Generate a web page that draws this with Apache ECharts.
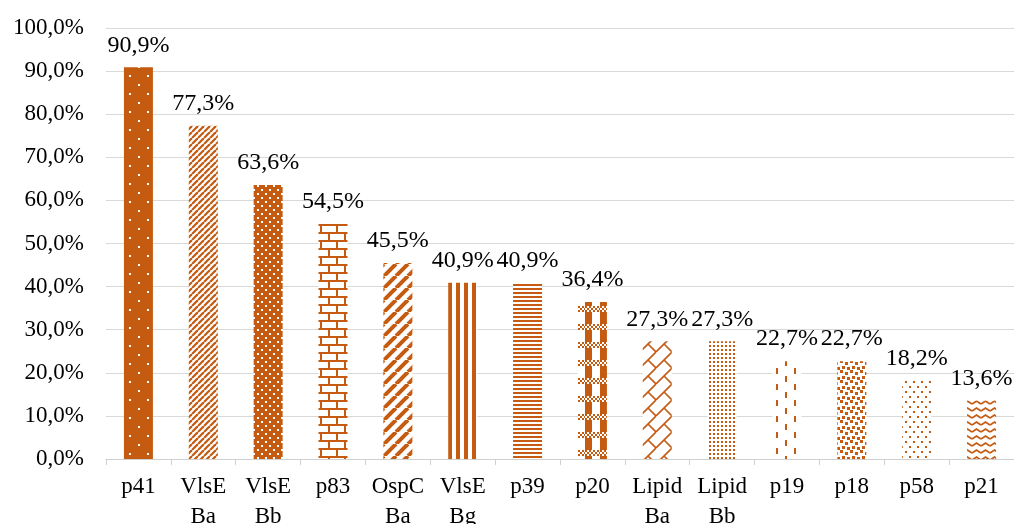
<!DOCTYPE html>
<html>
<head>
<meta charset="utf-8">
<script src="https://cdn.jsdelivr.net/npm/echarts@6/dist/echarts.min.js"></script>
<style>
  html, body { margin: 0; padding: 0; background: #fff; }
  #chart { width: 1014px; height: 524px; }
</style>
</head>
<body>
<div id="chart"></div>
<script>
// Values (percent of samples).
const categories = ['p41', 'VlsE\nBa', 'VlsE\nBb', 'p83', 'OspC\nBa', 'VlsE\nBg', 'p39',
  'p20', 'Lipid\nBa', 'Lipid\nBb', 'p19', 'p18', 'p58', 'p21'];
const values = [90.9, 77.3, 63.6, 54.5, 45.5, 40.9, 40.9, 36.4, 27.3, 27.3, 22.7, 22.7, 18.2, 13.6];

const ORANGE = '#C55A11';
const FONT = '"Liberation Serif", "Times New Roman", serif';

const pct = (v) => v.toFixed(1).replace('.', ',') + '%';

// small canvas tiles standing in for Excel's fill patterns
function tile(w, h, bg, draw) {
  const c = document.createElement('canvas');
  c.width = w; c.height = h;
  const g = c.getContext('2d');
  g.fillStyle = bg; g.fillRect(0, 0, w, h);
  g.fillStyle = ORANGE; g.strokeStyle = ORANGE;
  draw(g, w, h);
  return c;
}
function diag(g, s, lw) {
  g.lineWidth = lw;
  for (const x0 of [0, s, 2 * s]) {
    g.beginPath(); g.moveTo(x0 - s, s); g.lineTo(x0, 0); g.stroke();
  }
}

const patterns = [
  tile(18, 18, ORANGE, (g) => { g.fillStyle = '#fff'; g.fillRect(3, 3, 2, 2); g.fillRect(12, 12, 2, 2); }),
  tile(6, 6, '#fff', (g) => diag(g, 6, 2.2)),
  tile(8, 8, ORANGE, (g) => { g.fillStyle = '#fff'; g.fillRect(1, 1, 2, 2); g.fillRect(5, 5, 2, 2); }),
  tile(16, 16, '#fff', (g) => {
    g.fillRect(0, 0, 16, 2); g.fillRect(0, 8, 16, 2);
    g.fillRect(0, 0, 2, 8); g.fillRect(8, 8, 2, 8);
  }),
  tile(12, 12, '#fff', (g) => diag(g, 12, 4)),
  tile(8, 8, '#fff', (g) => g.fillRect(0, 0, 4, 8)),
  tile(4, 4, '#fff', (g) => g.fillRect(0, 0, 4, 2)),
  tile(15, 18, '#fff', (g) => {
    g.fillRect(0, 6, 7, 12);
    for (let y = 0; y < 6; y += 2)
      for (let x = 0; x < 15; x += 2)
        if (((x + y) / 2) % 2 === 0) g.fillRect(x, y, 2, 2);
  }),
  tile(16, 16, '#fff', (g) => {
    g.lineWidth = 1.6;
    for (const k of [0, 16, 32]) { g.beginPath(); g.moveTo(k - 16, 16); g.lineTo(k, 0); g.stroke(); }
    g.beginPath(); g.moveTo(8, 8); g.lineTo(16, 16); g.stroke();
  }),
  tile(4, 4, '#fff', (g) => g.fillRect(1, 1, 2, 2)),
  tile(18, 16, '#fff', (g) => { g.fillRect(2, 0, 2, 6); g.fillRect(11, 8, 2, 6); }),
  tile(10, 10, '#fff', (g) => {
    g.fillRect(0, 0, 3, 3); g.fillRect(5, 2, 3, 3); g.fillRect(2, 6, 3, 3); g.fillRect(7, 7, 3, 3);
  }),
  tile(8, 10, '#fff', (g) => { g.fillRect(1, 1, 2, 2); g.fillRect(5, 6, 2, 2); }),
  tile(9, 7, '#fff', (g) => {
    g.lineWidth = 1.8;
    g.beginPath(); g.moveTo(0, 5); g.lineTo(4.5, 2); g.lineTo(9, 5); g.stroke();
  }),
];

const chart = echarts.init(document.getElementById('chart'));
chart.setOption({
  animation: false,
  // v6 would otherwise shrink the grid to keep the two-line labels inside the canvas
  grid: { left: 106, right: 0, top: 28, bottom: 65, containLabel: false, outerBoundsMode: 'none' },
  xAxis: {
    type: 'category',
    data: categories,
    axisLine: { lineStyle: { color: '#d0d0d0', width: 1 } },
    axisTick: { show: true, length: 6, lineStyle: { color: '#d0d0d0' } },
    axisLabel: { color: '#000', fontFamily: FONT, fontSize: 23, lineHeight: 30, margin: 13, interval: 0 },
  },
  yAxis: {
    type: 'value',
    min: 0, max: 100, interval: 10,
    axisLine: { show: false },
    axisTick: { show: false },
    axisLabel: { color: '#000', fontFamily: FONT, fontSize: 23, margin: 22, formatter: pct },
    splitLine: { lineStyle: { color: '#d9d9d9', width: 1 } },
  },
  series: [{
    type: 'bar',
    barWidth: 29,
    data: values.map((v, i) => ({
      value: v,
      itemStyle: { color: { image: patterns[i], repeat: 'repeat' } },
    })),
    label: {
      show: true, position: 'top', distance: 10,
      color: '#000', fontFamily: FONT, fontSize: 24,
      formatter: (p) => pct(p.value),
    },
  }],
});
</script>
</body>
</html>
